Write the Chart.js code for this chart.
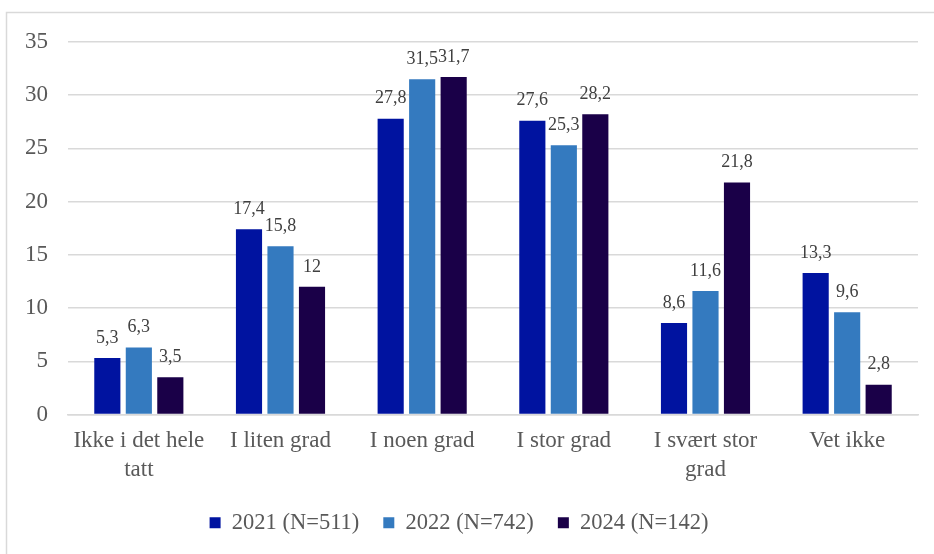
<!DOCTYPE html>
<html>
<head>
<meta charset="utf-8">
<script src="https://cdn.jsdelivr.net/npm/chart.js@4.4.1/dist/chart.umd.min.js"></script>
<style>
  html, body { margin: 0; padding: 0; background: #ffffff; }
  #wrap { position: relative; width: 934px; height: 554px; }
</style>
</head>
<body>
<div id="wrap"><canvas id="chart" width="934" height="554"></canvas></div>
<script>
// Answer categories (multi-line labels where the text wraps)
const categories = [
  ["Ikke i det hele", "tatt"],
  "I liten grad",
  "I noen grad",
  "I stor grad",
  ["I svært stor", "grad"],
  "Vet ikke"
];

// Share of respondents (%) per survey year
const values2021 = [5.3, 17.4, 27.8, 27.6, 8.6, 13.3];
const values2022 = [6.3, 15.8, 31.5, 25.3, 11.6, 9.6];
const values2024 = [3.5, 12, 31.7, 28.2, 21.8, 2.8];

const seriesLabels = ["2021 (N=511)", "2022 (N=742)", "2024 (N=142)"];
const yTicks = [0, 5, 10, 15, 20, 25, 30, 35];

const SERIF = "'Liberation Serif', 'Times New Roman', serif";
const colors = ["#0013A0", "#347ABF", "#1A0048"];

// Light frame around the whole chart
const framePlugin = {
  id: "frame",
  beforeDraw(chart) {
    const ctx = chart.ctx;
    ctx.save();
    ctx.strokeStyle = "#d9d9d9";
    ctx.lineWidth = 1.5;
    ctx.strokeRect(6.5, 12.5, chart.width + 20, chart.height + 20);
    ctx.restore();
  }
};

// Value labels above each bar, with a decimal comma
const valueLabels = {
  id: "valueLabels",
  afterDatasetsDraw(chart) {
    const ctx = chart.ctx;
    ctx.save();
    ctx.font = "18px " + SERIF;
    ctx.fillStyle = "#404040";
    ctx.textAlign = "center";
    ctx.textBaseline = "bottom";
    chart.data.datasets.forEach((ds, i) => {
      chart.getDatasetMeta(i).data.forEach((bar, j) => {
        const text = String(ds.data[j]).replace(".", ",");
        ctx.fillText(text, bar.x, bar.y - 11);
      });
    });
    ctx.restore();
  }
};

new Chart(document.getElementById("chart"), {
  type: "bar",
  data: {
    labels: categories,
    datasets: [
      { label: seriesLabels[0], data: values2021, backgroundColor: colors[0] },
      { label: seriesLabels[1], data: values2022, backgroundColor: colors[1] },
      { label: seriesLabels[2], data: values2024, backgroundColor: colors[2] }
    ]
  },
  options: {
    responsive: false,
    animation: false,
    devicePixelRatio: 1,
    layout: { padding: { top: 42, right: 16, left: 0, bottom: 10 } },
    datasets: {
      bar: { categoryPercentage: 0.667, barPercentage: 0.83 }
    },
    scales: {
      x: {
        grid: { display: false, drawTicks: false },
        border: { display: true, color: "#d9d9d9", width: 1.5 },
        ticks: {
          color: "#595959",
          font: { family: SERIF, size: 23, lineHeight: 1.25 },
          padding: 12,
          maxRotation: 0,
          autoSkip: false
        },
        afterFit(scale) { scale.height = 73; }
      },
      y: {
        min: 0,
        max: 35,
        afterBuildTicks(scale) { scale.ticks = yTicks.map(v => ({ value: v })); },
        grid: { color: "#d9d9d9", lineWidth: 1.5, drawTicks: false },
        border: { display: false },
        ticks: {
          color: "#595959",
          font: { family: SERIF, size: 23 },
          padding: 20
        },
        afterFit(scale) { scale.width = 68; }
      }
    },
    plugins: {
      legend: {
        position: "bottom",
        labels: {
          color: "#595959",
          font: { family: SERIF, size: 22.5 },
          boxWidth: 11,
          boxHeight: 11,
          padding: 24
        }
      },
      tooltip: { enabled: false }
    }
  },
  plugins: [framePlugin, valueLabels]
});
</script>
</body>
</html>
